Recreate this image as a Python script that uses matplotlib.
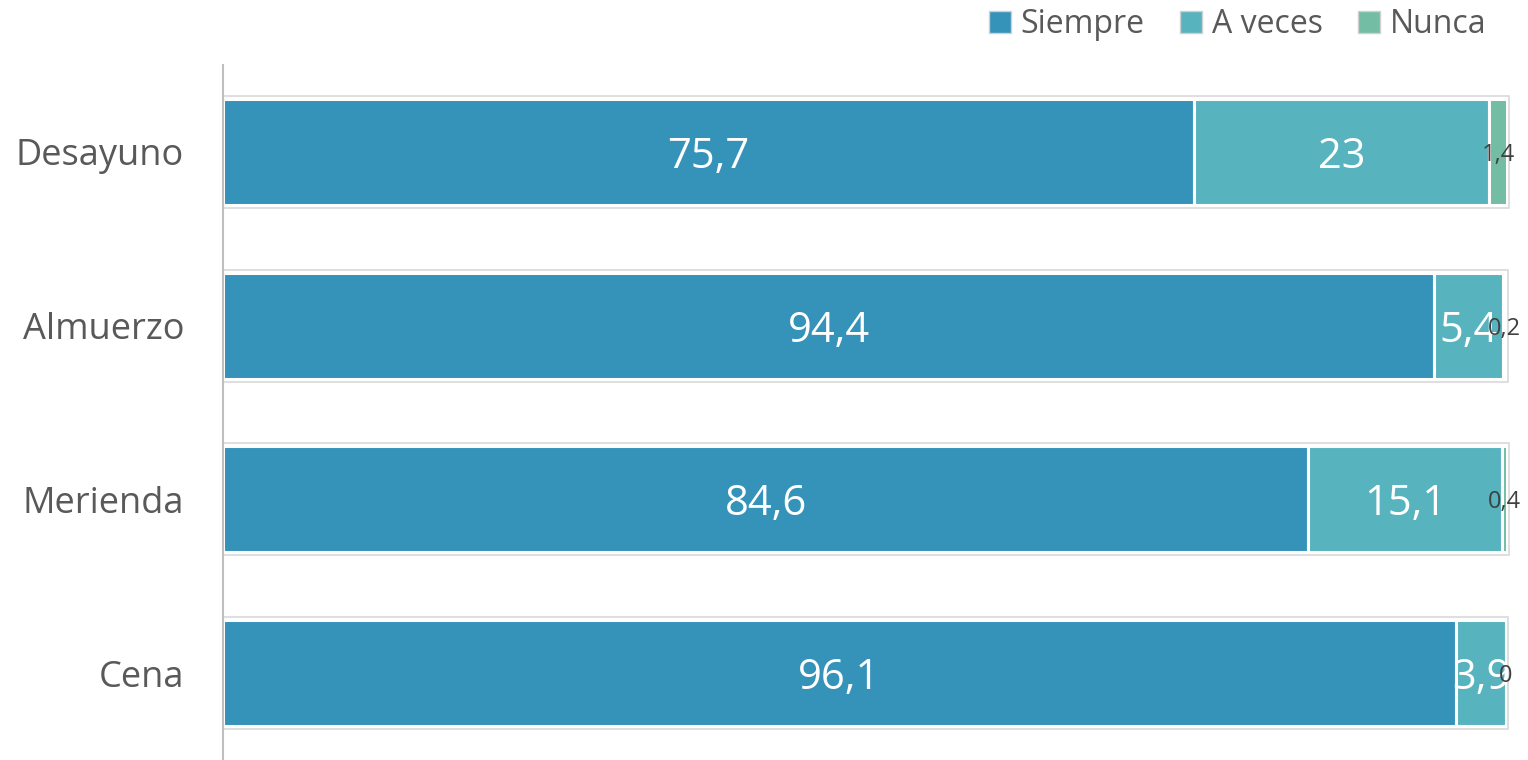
import matplotlib.pyplot as plt
import numpy as np

categorias = ['Desayuno', 'Almuerzo', 'Merienda', 'Cena']
siempre = [75.7, 94.4, 84.6, 96.1]
a_veces = [23, 5.4, 15.1, 3.9]
nunca = [1.4, 0.2, 0.4, 0]
series = ['Siempre', 'A veces', 'Nunca']
colores = ['#3593BA', '#57B4BE', '#73BDA5']

plt.rcParams['font.family'] = ['Open Sans', 'DejaVu Sans']

fig = plt.figure(figsize=(15.28, 7.6), dpi=100)
ax = fig.add_axes([223 / 1528, 0, 1283 / 1528, 695 / 760])

y = np.arange(len(categorias))
alto = 0.61
valores = [siempre, a_veces, nunca]
izq = np.zeros(len(categorias))
totales = np.array(siempre) + np.array(a_veces) + np.array(nunca)

for nombre, vals, col in zip(series, valores, colores):
    vals = np.array(vals)
    ax.barh(y, vals, height=alto, left=izq, color=col, edgecolor='white',
            linewidth=2.2, label=nombre, zorder=2, clip_on=False)
    for yi, l, v in zip(y, izq, vals):
        cx = l + v / 2
        txt = f'{v:g}'.replace('.', ',')
        if nombre == 'Nunca':
            ax.text(cx, yi, txt, ha='center', va='center_baseline', fontsize=17,
                    color='#404040', zorder=4)
        else:
            ax.text(cx, yi, txt, ha='center', va='center_baseline', fontsize=30,
                    color='white', zorder=3)
    izq = izq + vals

# contorno gris de cada barra completa
ax.barh(y, totales + 0.15, height=alto + 0.035, left=0, color='none',
        edgecolor='#d9d9d9', linewidth=1.2, zorder=2.5, clip_on=False)

ax.set_xlim(0, 100)
ax.set_ylim(3.5, -0.5)
ax.set_yticks(y)
ax.set_yticklabels(categorias, fontsize=26, color='#595959')
ax.tick_params(axis='y', length=0, pad=28)
ax.set_xticks([])
for s in ['top', 'right', 'bottom']:
    ax.spines[s].set_visible(False)
ax.spines['left'].set_color('#bfbfbf')
ax.spines['left'].set_linewidth(1.5)

leg = fig.legend(loc='upper right', bbox_to_anchor=(1515 / 1528, 1.027), ncol=3,
                 frameon=False, fontsize=23, handlelength=0.7, handleheight=0.7,
                 handletextpad=0.3, columnspacing=1.1, labelcolor='#595959')
for h in leg.legend_handles:
    h.set_edgecolor('#d0d0d0')
    h.set_linewidth(1)

fig.savefig('out.png', dpi=100)
